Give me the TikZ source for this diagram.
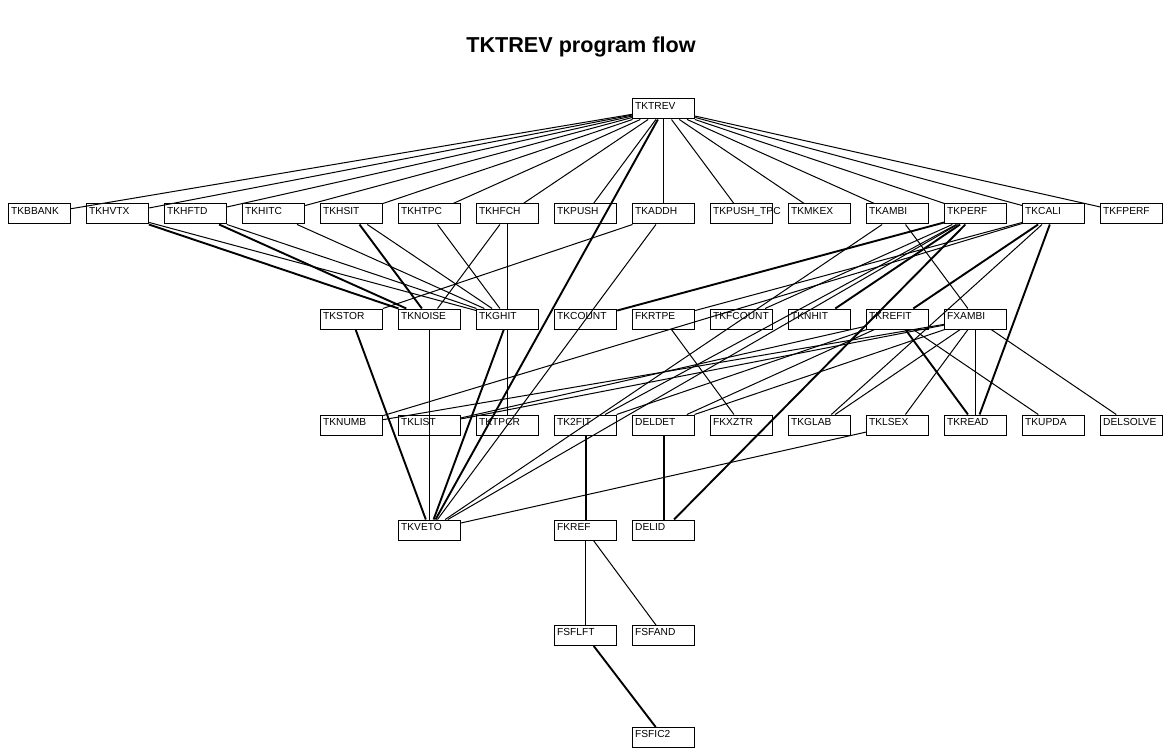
\documentclass[tikz,border=0pt]{standalone}
\usepackage{fontspec}
\setmainfont{Liberation Sans}
\begin{document}
\begin{tikzpicture}[x=0.5pt,y=-0.5pt,
  box/.style={draw, line width=0.5pt, minimum width=31pt, minimum height=10pt, inner sep=0pt,
    text width=28.5pt, align=left, text height=3.7pt, text depth=3.3pt, font=\fontsize{5.1}{6}\selectfont},
  e/.style={line width=0.5pt},
  te/.style={line width=0.95pt}]
\useasboundingbox (0,0) rectangle (1163,749);
\node[font=\bfseries\fontsize{10.8}{12}\selectfont] (title) at (581,47) {TKTREV program flow};
% row 0
\node[box] (TKTREV) at (663.7,109) {TKTREV};
% row 1
\node[box] (TKBBANK) at (39.7,214) {TKBBANK};
\node[box] (TKHVTX) at (117.7,214) {TKHVTX};
\node[box] (TKHFTD) at (195.7,214) {TKHFTD};
\node[box] (TKHITC) at (273.7,214) {TKHITC};
\node[box] (TKHSIT) at (351.7,214) {TKHSIT};
\node[box] (TKHTPC) at (429.7,214) {TKHTPC};
\node[box] (TKHFCH) at (507.7,214) {TKHFCH};
\node[box] (TKPUSH) at (585.7,214) {TKPUSH};
\node[box] (TKADDH) at (663.7,214) {TKADDH};
\node[box] (TKPUSHTPC) at (741.7,214) {TKPUSH\_TPC};
\node[box] (TKMKEX) at (819.7,214) {TKMKEX};
\node[box] (TKAMBI) at (897.7,214) {TKAMBI};
\node[box] (TKPERF) at (975.7,214) {TKPERF};
\node[box] (TKCALI) at (1053.7,214) {TKCALI};
\node[box] (TKFPERF) at (1131.7,214) {TKFPERF};
% row 2
\node[box] (TKSTOR) at (351.7,319) {TKSTOR};
\node[box] (TKNOISE) at (429.7,319) {TKNOISE};
\node[box] (TKGHIT) at (507.7,319) {TKGHIT};
\node[box] (TKCOUNT) at (585.7,319) {TKCOUNT};
\node[box] (FKRTPE) at (663.7,319) {FKRTPE};
\node[box] (TKFCOUNT) at (741.7,319) {TKFCOUNT};
\node[box] (TKNHIT) at (819.7,319) {TKNHIT};
\node[box] (TKREFIT) at (897.7,319) {TKREFIT};
\node[box] (FXAMBI) at (975.7,319) {FXAMBI};
% row 3
\node[box] (TKNUMB) at (351.7,425) {TKNUMB};
\node[box] (TKLIST) at (429.7,425) {TKLIST};
\node[box] (TKTPCR) at (507.7,425) {TKTPCR};
\node[box] (TK2FIT) at (585.7,425) {TK2FIT};
\node[box] (DELDET) at (663.7,425) {DELDET};
\node[box] (FKXZTR) at (741.7,425) {FKXZTR};
\node[box] (TKGLAB) at (819.7,425) {TKGLAB};
\node[box] (TKLSEX) at (897.7,425) {TKLSEX};
\node[box] (TKREAD) at (975.7,425) {TKREAD};
\node[box] (TKUPDA) at (1053.7,425) {TKUPDA};
\node[box] (DELSOLVE) at (1131.7,425) {DELSOLVE};
% row 4
\node[box] (TKVETO) at (429.7,530) {TKVETO};
\node[box] (FKREF) at (585.7,530) {FKREF};
\node[box] (DELID) at (663.7,530) {DELID};
% row 5
\node[box] (FSFLFT) at (585.7,635.5) {FSFLFT};
\node[box] (FSFAND) at (663.7,635.5) {FSFAND};
% row 6
\node[box] (FSFIC2) at (663.7,737.5) {FSFIC2};
% edges from TKTREV
\foreach \t in {TKBBANK,TKHVTX,TKHFTD,TKHITC,TKHSIT,TKHTPC,TKHFCH,TKPUSH,TKADDH,TKPUSHTPC,TKMKEX,TKAMBI,TKPERF,TKCALI,TKFPERF}
  \draw[e] (TKTREV) -- (\t);
\draw[te] (TKTREV) -- (TKVETO);
% hit routines
\draw[te] (TKHVTX) -- (TKNOISE);
\draw[e] (TKHVTX) -- (TKGHIT);
\draw[te] (TKHFTD) -- (TKNOISE);
\draw[e] (TKHFTD) -- (TKGHIT);
\draw[e] (TKHITC) -- (TKGHIT);
\draw[te] (TKHSIT) -- (TKNOISE);
\draw[e] (TKHSIT) -- (TKGHIT);
\draw[e] (TKHTPC) -- (TKGHIT);
\draw[e] (TKHFCH) -- (TKNOISE);
\draw[e] (TKHFCH) -- (TKGHIT);
\draw[e] (TKADDH) -- (TKSTOR);
\draw[e] (TKADDH) -- (TKVETO);
\draw[e] (TKAMBI) -- (FXAMBI);
\draw[e] (TKAMBI) -- (TKVETO);
% TKPERF
\draw[te] (TKPERF) -- (TKCOUNT);
\draw[te] (TKPERF) -- (TKNHIT);
\draw[te] (TKPERF) -- (DELID);
\draw[e] (TKPERF) -- (TKVETO);
\draw[e] (TKPERF) -- (TK2FIT);
\draw[e] (TKPERF) -- (TKFCOUNT);
% TKCALI
\draw[e] (TKCALI) -- (FKRTPE);
\draw[e] (TKCALI) -- (TKNUMB);
\draw[te] (TKCALI) -- (TKREFIT);
\draw[e] (TKCALI) -- (TKGLAB);
\draw[te] (TKCALI) -- (TKREAD);
% row 2 out
\draw[te] (TKSTOR) -- (TKVETO);
\draw[e] (TKNOISE) -- (TKVETO);
\draw[te] (TKGHIT) -- (TKVETO);
\draw[e] (TKGHIT) -- (TKTPCR);
\draw[e] (FKRTPE) -- (FKXZTR);
\draw[e] (TKREFIT) -- (TKLIST);
\draw[e] (TKREFIT) -- (TK2FIT);
\draw[e] (TKREFIT) -- (DELDET);
\draw[te] (TKREFIT) -- (TKREAD);
\draw[e] (TKREFIT) -- (TKUPDA);
\draw[e] (FXAMBI) -- (TKNUMB);
\draw[e] (FXAMBI) -- (TKLIST);
\draw[e] (FXAMBI) -- (DELDET);
\draw[e] (FXAMBI) -- (TKGLAB);
\draw[e] (FXAMBI) -- (TKLSEX);
\draw[e] (FXAMBI) -- (TKREAD);
\draw[e] (FXAMBI) -- (DELSOLVE);
% row 3 out
\draw[e] (TKLSEX) -- (TKVETO);
\draw[te] (TK2FIT) -- (FKREF);
\draw[te] (DELDET) -- (DELID);
% lower
\draw[e] (FKREF) -- (FSFLFT);
\draw[e] (FKREF) -- (FSFAND);
\draw[te] (FSFLFT) -- (FSFIC2);
\end{tikzpicture}
\end{document}
